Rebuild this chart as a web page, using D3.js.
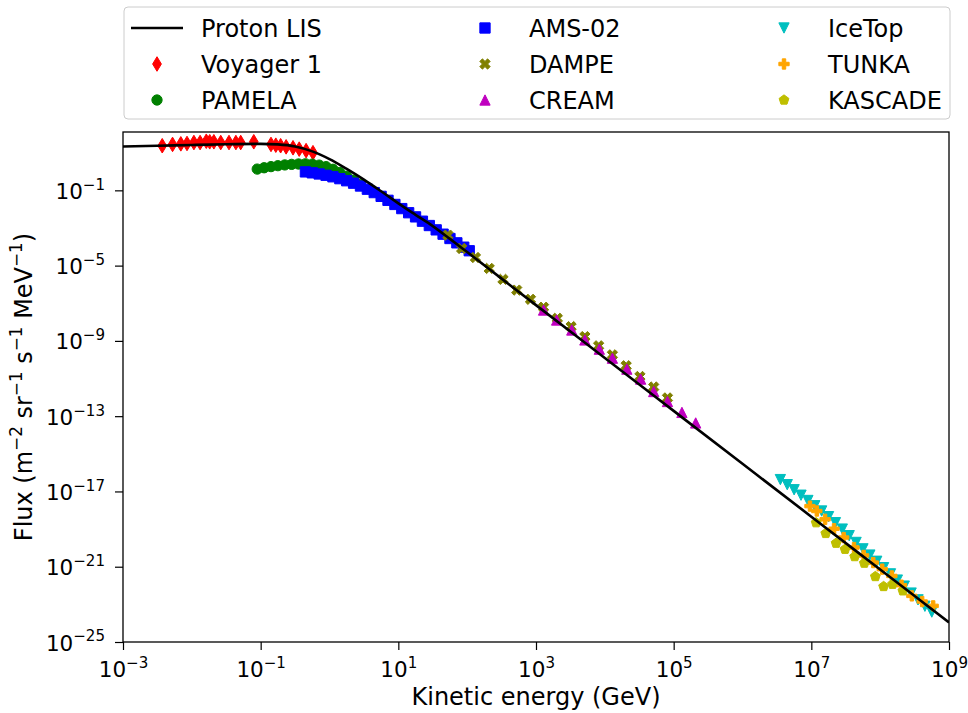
<!DOCTYPE html>
<html><head><meta charset="utf-8">
<script src="https://cdn.jsdelivr.net/npm/d3@7/dist/d3.min.js"></script>
<style>body{margin:0;background:#fff}svg{display:block;font-family:"DejaVu Sans",sans-serif}</style>
</head><body><svg id="c" width="968" height="713"></svg>
<script>
// ---- data (log10 values) ----
const xTickExps = [-3, -1, 1, 3, 5, 7, 9];
const yTickExps = [-25, -21, -17, -13, -9, -5, -1];

const lisLogE = [-3, -2.5, -2, -1.5, -1, -0.75, -0.5, -0.25, 0, 0.25, 0.5, 0.75, 1, 1.25, 1.5, 1.75, 2, 2.5, 3, 4, 5, 6, 7, 8, 9];
const lisLogF = [1.33, 1.37, 1.41, 1.45, 1.47, 1.44, 1.33, 1.07, 0.66, 0.14, -0.43, -1.05, -1.69, -2.30, -2.90, -3.58, -4.28, -5.69, -7.10, -9.91, -12.72, -15.53, -18.34, -21.15, -23.96];

const voyagerLogE = [-2.43, -2.28, -2.16, -2.07, -1.97, -1.88, -1.79, -1.74, -1.68, -1.58, -1.46, -1.36, -1.29, -1.10, -0.85, -0.78, -0.71, -0.63, -0.53, -0.44, -0.34, -0.24];
const voyagerLogF = [1.37, 1.44, 1.47, 1.49, 1.54, 1.54, 1.61, 1.58, 1.58, 1.54, 1.54, 1.54, 1.54, 1.58, 1.44, 1.40, 1.37, 1.31, 1.26, 1.19, 1.11, 1.00];

const pamelaLogE = [-1.05, -0.95, -0.85, -0.75, -0.65, -0.55, -0.45, -0.35, -0.25, -0.15, -0.05, 0.05, 0.15, 0.25, 0.35, 0.45];
const pamelaLogF = [0.13, 0.20, 0.26, 0.31, 0.35, 0.38, 0.40, 0.41, 0.39, 0.34, 0.26, 0.12, -0.05, -0.25, -0.46, -0.68];

const amsLogE = [-0.35, -0.25, -0.15, -0.05, 0.05, 0.15, 0.25, 0.35, 0.45, 0.55, 0.65, 0.75, 0.85, 0.95, 1.05, 1.15, 1.25, 1.35, 1.45, 1.55, 1.65, 1.75, 1.85, 1.95, 2.03];
const amsLogF = [-0.02, -0.07, -0.13, -0.20, -0.28, -0.38, -0.49, -0.62, -0.77, -0.94, -1.12, -1.32, -1.53, -1.75, -1.97, -2.19, -2.41, -2.64, -2.87, -3.10, -3.33, -3.56, -3.79, -4.02, -4.21];

const dampeLogE = [1.72, 1.92, 2.12, 2.32, 2.52, 2.72, 2.92, 3.11, 3.31, 3.51, 3.71, 3.91, 4.11, 4.31, 4.51, 4.71, 4.91];
const dampeLogF = [-3.38, -4.09, -4.57, -5.15, -5.73, -6.30, -6.79, -7.21, -7.80, -8.24, -8.77, -9.26, -9.74, -10.32, -10.89, -11.45, -12.03];

const creamLogE = [3.11, 3.30, 3.52, 3.71, 3.92, 4.11, 4.32, 4.52, 4.71, 4.91, 5.12, 5.32];
const creamLogF = [-7.36, -7.89, -8.42, -8.95, -9.44, -9.92, -10.50, -11.03, -11.69, -12.22, -12.80, -13.36];

const icetopLogE = [6.55, 6.65, 6.75, 6.85, 6.95, 7.05, 7.15, 7.25, 7.35, 7.45, 7.55, 7.65, 7.75, 7.85, 7.95, 8.05, 8.15, 8.25, 8.35, 8.45, 8.55, 8.65, 8.75];
const icetopLogF = [-16.37, -16.64, -16.91, -17.20, -17.48, -17.76, -18.04, -18.34, -18.66, -19.00, -19.35, -19.71, -20.05, -20.38, -20.71, -21.05, -21.38, -21.71, -22.03, -22.40, -22.76, -23.10, -23.41];

const tunkaLogE = [6.98, 7.08, 7.20, 7.33, 7.47, 7.62, 7.76, 7.90, 8.03, 8.17, 8.31, 8.46, 8.61, 8.77];
const tunkaLogF = [-17.78, -18.04, -18.48, -18.98, -19.45, -19.98, -20.40, -20.78, -21.13, -21.49, -21.98, -22.55, -22.85, -23.08];

const kascadeLogE = [7.07, 7.21, 7.36, 7.49, 7.63, 7.77, 7.93, 8.05, 8.18, 8.33];
const kascadeLogF = [-18.66, -19.23, -19.75, -20.07, -20.46, -20.81, -21.52, -22.05, -21.93, -22.28];

const seriesNames = ["Voyager 1", "PAMELA", "AMS-02", "DAMPE", "CREAM", "IceTop", "TUNKA", "KASCADE"];
const seriesE = [voyagerLogE, pamelaLogE, amsLogE, dampeLogE, creamLogE, icetopLogE, tunkaLogE, kascadeLogE];
const seriesF = [voyagerLogF, pamelaLogF, amsLogF, dampeLogF, creamLogF, icetopLogF, tunkaLogF, kascadeLogF];

// ---- styles ----
const seriesColors = ["#ff0000", "#008000", "#0000ff", "#808000", "#bf00bf", "#00bfbf", "#ffa500", "#bfbf00"];
const seriesMarkers = ["d", "o", "s", "X", "^", "v", "P", "p"];
const MS = 10.3;

const L = 123, R = 949, T = 132, B = 642;
const svg = d3.select("#c");
const x = d3.scaleLog().domain([1e-3, 1e9]).range([L, R]);
const y = d3.scaleLog().domain([1e-25, Math.pow(10, 2.1)]).range([B, T]);

function poly(pts, s) {
  return "M" + pts.map(p => (p[0] * s).toFixed(2) + "," + (-p[1] * s).toFixed(2)).join("L") + "Z";
}
const shapes = {
  d: s => poly([[0, 0.7071], [0.4243, 0], [0, -0.7071], [-0.4243, 0]], s),
  o: s => { const r = s / 2; return `M${r},0A${r},${r} 0 1,1 ${-r},0A${r},${r} 0 1,1 ${r},0Z`; },
  s: s => poly([[-.5, -.5], [.5, -.5], [.5, .5], [-.5, .5]], s),
  X: s => poly([[-1, -2], [0, -1], [1, -2], [2, -1], [1, 0], [2, 1], [1, 2], [0, 1], [-1, 2], [-2, 1], [-1, 0], [-2, -1]].map(p => [p[0] / 4, p[1] / 4]), s),
  "^": s => poly([[0, .5], [-.5, -.5], [.5, -.5]], s),
  v: s => poly([[0, -.5], [-.5, .5], [.5, .5]], s),
  P: s => poly([[-1, -3], [-1, -1], [-3, -1], [-3, 1], [-1, 1], [-1, 3], [1, 3], [1, 1], [3, 1], [3, -1], [1, -1], [1, -3]].map(p => [p[0] / 6, p[1] / 6]), s),
  p: s => poly(d3.range(5).map(i => { const a = Math.PI / 2 + i * 2 * Math.PI / 5; return [0.5 * Math.cos(a), 0.5 * Math.sin(a)]; }), s)
};

svg.append("defs").append("clipPath").attr("id", "clip")
  .append("rect").attr("x", L).attr("y", T).attr("width", R - L).attr("height", B - T);

const plot = svg.append("g").attr("clip-path", "url(#clip)");

// markers
seriesNames.forEach((name, i) => {
  const pts = seriesE[i].map((e, j) => [Math.pow(10, e), Math.pow(10, seriesF[i][j])]);
  plot.append("g").selectAll("path").data(pts).join("path")
    .attr("d", shapes[seriesMarkers[i]](MS))
    .attr("transform", d => `translate(${x(d[0])},${y(d[1])})`)
    .attr("fill", seriesColors[i]).attr("stroke", seriesColors[i]).attr("stroke-width", 1);
});

// LIS line
const lisPts = lisLogE.map((e, j) => [Math.pow(10, e), Math.pow(10, lisLogF[j])]);
plot.append("path").datum(lisPts)
  .attr("d", d3.line().x(d => x(d[0])).y(d => y(d[1])).curve(d3.curveMonotoneX))
  .attr("fill", "none").attr("stroke", "#000").attr("stroke-width", 2.6);

// axes
const TICK = 8, FS = 21.5;
const xAxis = svg.append("g").attr("transform", `translate(0,${B})`)
  .call(d3.axisBottom(x).tickValues(xTickExps.map(e => Math.pow(10, e))).tickFormat(() => "").tickSize(TICK).tickSizeOuter(0));
const yAxis = svg.append("g").attr("transform", `translate(${L},0)`)
  .call(d3.axisLeft(y).tickValues(yTickExps.map(e => Math.pow(10, e))).tickFormat(() => "").tickSize(TICK).tickSizeOuter(0));
[xAxis, yAxis].forEach(a => {
  a.select(".domain").remove();
  a.selectAll(".tick line").attr("stroke", "#000").attr("stroke-width", 1.2);
});

function supText(t, exp, fs) {
  t.append("tspan").text("10");
  t.append("tspan").attr("font-size", fs * 0.7).attr("dy", -fs * 0.42).text(exp < 0 ? "\u2212" + Math.abs(exp) : String(exp));
}
xAxis.selectAll(".tick").each(function (d) {
  const t = d3.select(this).select("text");
  t.attr("y", 0).attr("dy", 0).attr("transform", "translate(0,35)")
    .attr("text-anchor", "middle").attr("font-size", FS).attr("fill", "#000").attr("font-family", "DejaVu Sans");
  supText(t, Math.round(Math.log10(d)), FS);
});
yAxis.selectAll(".tick").each(function (d) {
  const t = d3.select(this).select("text");
  t.attr("x", -TICK - 10).attr("dy", 0).attr("y", 8)
    .attr("text-anchor", "end").attr("font-size", FS).attr("fill", "#000").attr("font-family", "DejaVu Sans");
  supText(t, Math.round(Math.log10(d)), FS);
});

// frame
svg.append("rect").attr("x", L).attr("y", T).attr("width", R - L).attr("height", B - T)
  .attr("fill", "none").attr("stroke", "#000").attr("stroke-width", 1.3);

// axis labels
const LFS = 24;
svg.append("text").attr("x", (L + R) / 2).attr("y", 705).attr("text-anchor", "middle")
  .attr("font-size", LFS).text("Kinetic energy (GeV)");

const yl = svg.append("text").attr("transform", `translate(32,${(T + B) / 2}) rotate(-90)`)
  .attr("text-anchor", "middle").attr("font-size", LFS);
const parts = [["Flux (m", "\u22122"], [" sr", "\u22121"], [" s", "\u22121"], [" MeV", "\u22121"], [")", null]];
let raised = false;
parts.forEach(([base, sp]) => {
  yl.append("tspan").attr("dy", raised ? LFS * 0.42 : 0).text(base);
  raised = false;
  if (sp) { yl.append("tspan").attr("font-size", LFS * 0.7).attr("dy", -LFS * 0.42).text(sp); raised = true; }
});

// legend
const leg = svg.append("g");
leg.append("rect").attr("x", 124).attr("y", 7).attr("width", 826).attr("height", 112).attr("rx", 4)
  .attr("fill", "#fff").attr("fill-opacity", 0.8).attr("stroke", "#cccccc").attr("stroke-width", 1);
const legNames = ["Proton LIS"].concat(seriesNames);
const colX = [157, 485, 784], rowY = [28, 64, 100];
legNames.forEach((name, k) => {
  const c = Math.floor(k / 3), r = k % 3;
  const cx = colX[c], cy = rowY[r];
  if (k === 0) {
    leg.append("line").attr("x1", cx - 26).attr("x2", cx + 26).attr("y1", cy).attr("y2", cy)
      .attr("stroke", "#000").attr("stroke-width", 2.6);
  } else {
    const i = k - 1;
    leg.append("path").attr("d", shapes[seriesMarkers[i]](MS)).attr("transform", `translate(${cx},${cy})`)
      .attr("fill", seriesColors[i]).attr("stroke", seriesColors[i]).attr("stroke-width", 1);
  }
  leg.append("text").attr("x", cx + 44).attr("y", cy + 9).attr("font-size", 24).text(name);
});
</script>
</body></html>
